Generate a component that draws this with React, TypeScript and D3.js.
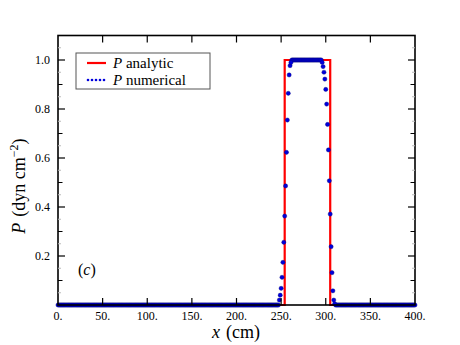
import * as d3 from 'd3';

// analytic step profile (x in cm, P in dyn cm^-2)
const analyticX = [0, 254, 254, 305, 305, 400];
const analyticP = [0, 0, 1, 1, 0, 0];

// numerical solution
const leftFrontX = [248, 249, 250, 251, 252, 253, 254, 255, 256, 257, 258, 259, 260, 261];
const leftFrontP = [0.02, 0.04, 0.068, 0.113, 0.174, 0.256, 0.363, 0.486, 0.623, 0.755, 0.864, 0.939, 0.977, 0.99];
const rightFrontX = [296, 297, 298, 299, 300, 301, 302, 303, 304, 305, 306, 307, 308, 309, 310];
const rightFrontP = [0.99, 0.973, 0.95, 0.922, 0.88, 0.82, 0.737, 0.633, 0.507, 0.371, 0.238, 0.132, 0.058, 0.02, 0.005];
// flat parts: [from, to, value]
const flatParts: [number, number, number][] = [
  [0, 247, 0],
  [262, 295, 1.0],
  [311, 400, 0],
];

const xTicks = [0, 50, 100, 150, 200, 250, 300, 350, 400];
const yTicks = [0.2, 0.4, 0.6, 0.8, 1.0];
const yMidTicks = [0.1, 0.3, 0.5, 0.7, 0.9];
const yMinorTicks = [0.05, 0.15, 0.25, 0.35, 0.45, 0.55, 0.65, 0.75, 0.85, 0.95, 1.05];

const W = 460;
const H = 345;
const left = 58, right = 415, top = 35.5, bottom = 305;
const serif = '"Liberation Serif", "DejaVu Serif", serif';

export default function App() {
  const x = d3.scaleLinear().domain([0, 400]).range([left, right]);
  const y = d3.scaleLinear().domain([0, 1.1]).range([bottom, top]);

  const points: [number, number][] = [];
  flatParts.forEach(([a, b, v]) => {
    d3.range(a, b + 1).forEach(xx => points.push([xx, v]));
  });
  leftFrontX.forEach((xx, i) => points.push([xx, leftFrontP[i]]));
  rightFrontX.forEach((xx, i) => points.push([xx, rightFrontP[i]]));

  const line = d3
    .line<number>()
    .x((d, i) => x(analyticX[i]))
    .y(d => y(d));

  return (
    <svg width={W} height={H} style={{ position: 'absolute', left: 0, top: 0, background: '#fff' }} fontFamily={serif}>
      {/* analytic */}
      <path d={line(analyticP) || ''} fill="none" stroke="#ff0000" strokeWidth={2.2} />

      {/* numerical */}
      {points.map((p, i) => (
        <circle key={i} cx={x(p[0])} cy={y(p[1])} r={2.1} fill="#0000dd" stroke="#00007a" strokeWidth={0.4} />
      ))}

      {/* frame */}
      <rect x={left} y={top} width={right - left} height={bottom - top} fill="none" stroke="#000" strokeWidth={1.6} />

      {/* x ticks */}
      {xTicks.map(t => (
        <g key={'x' + t}>
          {t > 0 && t < 400 && (
            <>
              <line x1={x(t)} x2={x(t)} y1={bottom} y2={bottom - 7} stroke="#000" strokeWidth={1.2} />
              <line x1={x(t)} x2={x(t)} y1={top} y2={top + 7} stroke="#000" strokeWidth={1.2} />
            </>
          )}
          <text x={x(t)} y={320} fontSize={12} textAnchor="middle">{t + '.'}</text>
        </g>
      ))}

      {/* y ticks */}
      {yTicks.map(t => (
        <g key={'y' + t}>
          <line x1={left} x2={left + 7} y1={y(t)} y2={y(t)} stroke="#000" strokeWidth={1.2} />
          <line x1={right} x2={right - 7} y1={y(t)} y2={y(t)} stroke="#000" strokeWidth={1.2} />
          <text x={50} y={y(t) + 4} fontSize={12} textAnchor="end">{t.toFixed(1)}</text>
        </g>
      ))}
      {yMidTicks.map(t => (
        <g key={'ym' + t}>
          <line x1={left} x2={left + 4.5} y1={y(t)} y2={y(t)} stroke="#000" strokeWidth={1} />
          <line x1={right} x2={right - 4.5} y1={y(t)} y2={y(t)} stroke="#000" strokeWidth={1} />
        </g>
      ))}
      {yMinorTicks.map(t => (
        <g key={'yn' + t}>
          <line x1={left} x2={left + 3} y1={y(t)} y2={y(t)} stroke="#bbb" strokeWidth={1} />
          <line x1={right} x2={right - 3} y1={y(t)} y2={y(t)} stroke="#bbb" strokeWidth={1} />
        </g>
      ))}

      {/* axis labels */}
      <text x={236} y={338} fontSize={18} textAnchor="middle">
        <tspan fontStyle="italic">x</tspan>
        <tspan dx={6}>(cm)</tspan>
      </text>
      <text transform="translate(25,186) rotate(-90)" fontSize={18} textAnchor="middle">
        <tspan fontStyle="italic">P</tspan>
        <tspan dx={6}>(dyn cm</tspan>
        <tspan dy={-7} fontSize={12}>−2</tspan>
        <tspan dy={7}>)</tspan>
      </text>

      {/* panel label */}
      <text x={78} y={275} fontSize={16}>
        (<tspan fontStyle="italic">c</tspan>)
      </text>

      {/* legend */}
      <rect x={76} y={53} width={134} height={36} fill="#fff" stroke="#555" strokeWidth={1} />
      <line x1={87} x2={106} y1={63} y2={63} stroke="#ff0000" strokeWidth={2.2} />
      <text x={113} y={68} fontSize={15}>
        <tspan fontStyle="italic">P</tspan> analytic
      </text>
      {d3.range(88, 107, 4).map(px => (
        <circle key={'lg' + px} cx={px} cy={80} r={1.3} fill="#0000dd" />
      ))}
      <text x={113} y={85} fontSize={15}>
        <tspan fontStyle="italic">P</tspan> numerical
      </text>
    </svg>
  );
}
